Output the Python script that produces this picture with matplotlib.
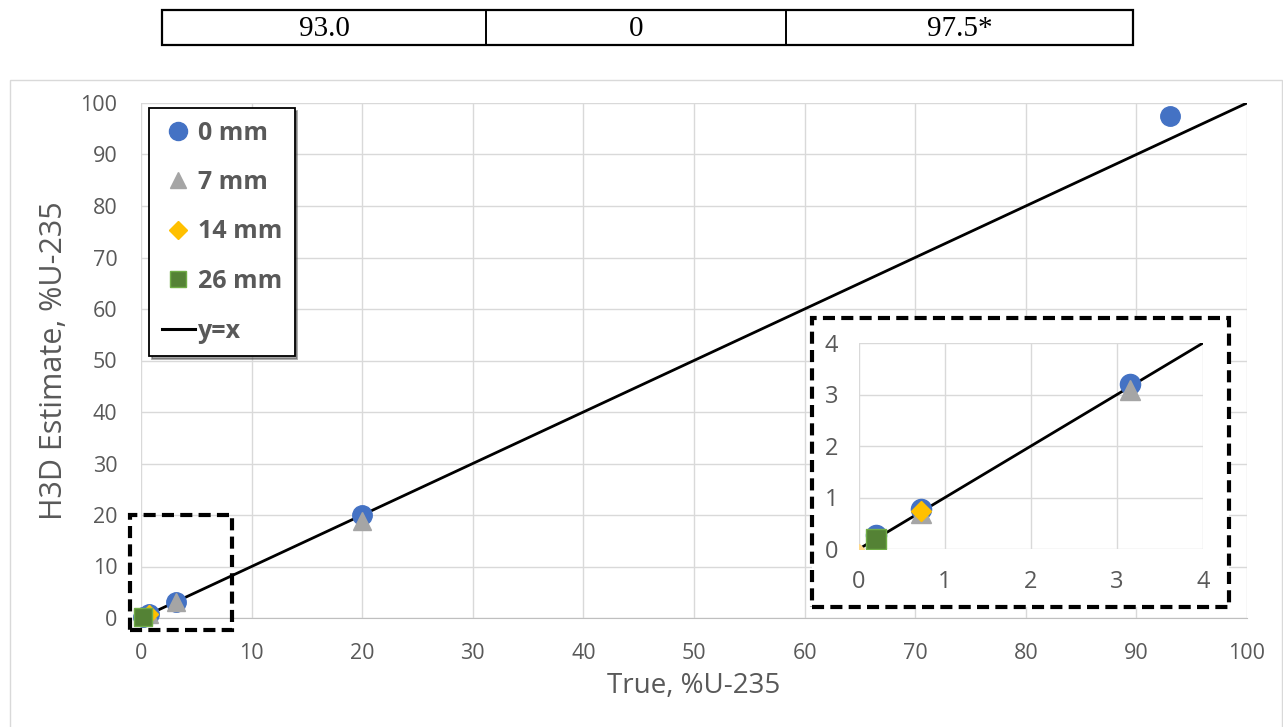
import matplotlib
matplotlib.use("Agg")
import matplotlib.pyplot as plt
from matplotlib.patches import Rectangle
from matplotlib.lines import Line2D

plt.rcParams['font.family'] = ['Open Sans', 'DejaVu Sans']

# ---- data ----
table_cells = ["93.0", "0", "97.5*"]

x_0mm = [0.2, 0.72, 3.15, 20.0, 93.0]
y_0mm = [0.28, 0.78, 3.2, 20.0, 97.5]
x_7mm = [0.72, 3.15, 20.0]
y_7mm = [0.70, 3.08, 18.9]
x_14mm = [0.72]
y_14mm = [0.73]
x_14faint = [0.0]
y_14faint = [0.0]
x_26mm = [0.2]
y_26mm = [0.2]
line_main = [0, 100]
line_inset = [0, 4]
main_ticks = list(range(0, 101, 10))
inset_ticks = [0, 1, 2, 3, 4]

W, H = 1283, 727
fig = plt.figure(figsize=(W / 100, H / 100), dpi=100)

def fr(l, t, r, b):
    return [l / W, 1 - b / H, (r - l) / W, (b - t) / H]

GRAY_TXT = '#595959'
GRID = '#D9D9D9'
C0, C7, C14, C26 = '#4472C4', '#A5A5A5', '#FFC000', '#548235'

# ---- top table ----
fig.add_artist(Rectangle((162 / W, 1 - 45 / H), (1133 - 162) / W, 35 / H,
                         transform=fig.transFigure, fill=False, ec='black', lw=1.6))
for xv in [486, 786]:
    fig.add_artist(Line2D([xv / W, xv / W], [1 - 45 / H, 1 - 10 / H],
                          transform=fig.transFigure, color='black', lw=1.4))
for cx, txt in zip([324, 636, 960], table_cells):
    fig.text(cx / W, 1 - 28.5 / H, txt, ha='center', va='center',
             family='Liberation Serif', fontsize=21)

# ---- chart outer border ----
fig.add_artist(Rectangle((10 / W, -0.01), (1282 - 10) / W, 1 - 80 / H + 0.01,
                         transform=fig.transFigure, fill=False, ec=GRID, lw=1))

# ---- main axes ----
ax = fig.add_axes(fr(141, 103, 1247, 618))
ax.set_zorder(1)
ax.set_xlim(0, 100)
ax.set_ylim(0, 100)
ax.set_xticks(main_ticks)
ax.set_yticks(main_ticks)
ax.grid(True, color=GRID, lw=1)
ax.set_axisbelow(True)
for s in ['top', 'right', 'left']:
    ax.spines[s].set_visible(False)
ax.spines['bottom'].set_color('#BFBFBF')
ax.tick_params(length=0, labelsize=15.5, labelcolor=GRAY_TXT)
ax.tick_params(axis='x', pad=18)
ax.tick_params(axis='y', pad=17)
ax.set_xlabel('True, %U-235', fontsize=20, color=GRAY_TXT, labelpad=6)
ax.set_ylabel('H3D Estimate, %U-235', fontsize=22, color=GRAY_TXT, labelpad=8)

ax.plot(line_main, line_main, color='black', lw=2.0, zorder=2, label='y=x')
kw = dict(linestyle='none', clip_on=False, zorder=3)
h0, = ax.plot(x_0mm, y_0mm, marker='o', ms=14, color=C0, mec=C0, label='0 mm', **kw)
h7, = ax.plot(x_7mm, y_7mm, marker='^', ms=13, color=C7, mec=C7, label='7 mm', **kw)
h14, = ax.plot(x_14mm, y_14mm, marker='D', ms=9, color=C14, mec=C14, label='14 mm', **kw)
h26, = ax.plot(x_26mm, y_26mm, marker='s', ms=13, color=C26, mec='#70AD47', mew=1, label='26 mm', **kw)

lh0 = Line2D([], [], ls='none', marker='o', ms=13, color=C0)
lh7 = Line2D([], [], ls='none', marker='^', ms=12, color=C7)
lh14 = Line2D([], [], ls='none', marker='D', ms=9, color=C14)
lh26 = Line2D([], [], ls='none', marker='s', ms=12, color=C26, mec='#70AD47', mew=1)
hl = Line2D([], [], color='black', lw=2.2)

leg = ax.legend([lh0, lh7, lh14, lh26, hl], ['0 mm', '7 mm', '14 mm', '26 mm', 'y=x'],
                loc='upper left', bbox_to_anchor=(149 / W, 1 - 108 / H),
                bbox_transform=fig.transFigure,
                prop={'weight': 'bold', 'size': 18}, labelspacing=0.98,
                handlelength=1.35, handletextpad=0.1, borderpad=0.5,
                borderaxespad=0, fancybox=False, shadow=True, framealpha=1)
leg.get_frame().set_edgecolor('black')
leg.get_frame().set_linewidth(1.3)
for t in leg.get_texts():
    t.set_color(GRAY_TXT)

# ---- dashed boxes ----
dash = (0, (2.9, 1.5))
fig.add_artist(Rectangle((130 / W, 1 - 630 / H), (232 - 130) / W, (630 - 515) / H,
                         transform=fig.transFigure, fill=False, ec='black', lw=3,
                         ls=dash, zorder=5))
fig.add_artist(Rectangle((812 / W, 1 - 607 / H), (1229 - 812) / W, (607 - 318) / H,
                         transform=fig.transFigure, fc='white', ec='black', lw=3,
                         ls=dash, zorder=5))

# ---- inset ----
ai = fig.add_axes(fr(859, 343, 1203, 549))
ai.set_zorder(6)
ai.set_xlim(0, 4)
ai.set_ylim(0, 4)
ai.set_xticks(inset_ticks)
ai.set_yticks(inset_ticks)
ai.grid(True, color=GRID, lw=1)
ai.set_axisbelow(True)
for s in ai.spines.values():
    s.set_visible(False)
ai.tick_params(length=0, labelsize=17, labelcolor=GRAY_TXT)
ai.tick_params(axis='x', pad=15)
ai.tick_params(axis='y', pad=15)
ai.plot(line_inset, line_inset, color='black', lw=2.0, zorder=2)
ai.plot(x_14faint, y_14faint, marker='D', ms=5, color='#FFD98A', mec='#FFD98A', **kw)
ai.plot(x_0mm, y_0mm, marker='o', ms=14.5, color=C0, mec=C0, **kw)
ai.plot(x_7mm, y_7mm, marker='^', ms=14, color=C7, mec=C7, **kw)
ai.plot(x_14mm, y_14mm, marker='D', ms=10.5, color=C14, mec=C14, **kw)
ai.plot(x_26mm, y_26mm, marker='s', ms=14, color=C26, mec='#70AD47', mew=1, **kw)
for ln in ai.lines:
    ln.set_clip_on(True)

fig.savefig('out.png', dpi=100)
